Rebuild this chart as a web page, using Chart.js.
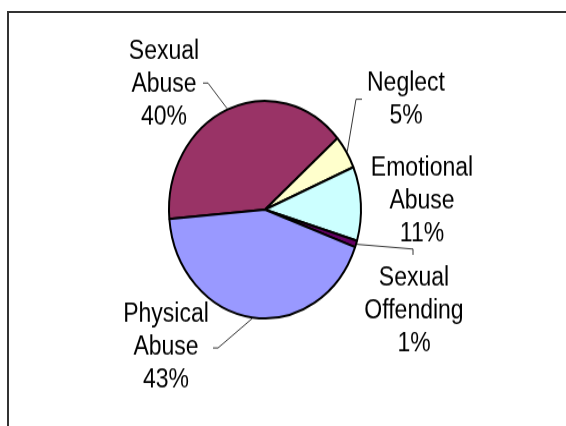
<!DOCTYPE html>
<html lang="en">
<head>
  <meta charset="UTF-8" />
  <title>Case Types</title>
  <style>
    html, body { margin: 0; padding: 0; background: #fff; overflow: hidden; width: 566px; height: 426px; }
    #frame {
      position: absolute; left: 7px; top: 11px;
      width: 1000px; height: 1000px;
      border: 2px solid #333;
    }
    #chart { position: absolute; left: 0; top: 0; }
  </style>
</head>
<body>
  <div id="frame"></div>
  <!-- drawn 566x376 and shown taller, so the pie comes out oval -->
  <canvas id="chart" width="566" height="376" style="width:566px;height:426px"></canvas>

  <script src="https://cdn.jsdelivr.net/npm/chart.js"></script>
  <script>
    const categories = [["Sexual", "Abuse"], ["Neglect"], ["Emotional", "Abuse"], ["Sexual", "Offending"], ["Physical", "Abuse"]];
    const percents = [40, 5, 11, 1, 43];
    const colours = ["#993366", "#FFFFCC", "#CCFFFF", "#660066", "#9999FF"];

    // label block (first baseline) and leader bend for each slice
    const labelSpots = [
      { x: 164, y: 52, elbow: [208, 73.3], end: [203, 73.3] },
      { x: 406, y: 80, elbow: [356, 87.6], end: [362, 87.6] },
      { x: 422, y: 154.5, elbow: null },
      { x: 414, y: 251.5, elbow: [413, 219.8], end: [413, 225] },
      { x: 166, y: 284, elbow: [218, 307.1], end: [213, 307.1] }
    ];
    const LINE_H = 29;

    const outsideLabels = {
      id: 'outsideLabels',
      afterDatasetsDraw(chart) {
        const ctx = chart.ctx;
        const arcs = chart.getDatasetMeta(0).data;
        ctx.save();
        // leader lines from the middle of each slice's rim
        ctx.strokeStyle = '#000';
        ctx.lineWidth = 0.8;
        arcs.forEach((arc, i) => {
          const spot = labelSpots[i];
          if (!spot.elbow) return;
          const p = arc.getProps(['x', 'y', 'startAngle', 'endAngle', 'outerRadius'], true);
          const mid = (p.startAngle + p.endAngle) / 2;
          const r = p.outerRadius + 1;
          ctx.beginPath();
          ctx.moveTo(p.x + Math.cos(mid) * r, p.y + Math.sin(mid) * r);
          ctx.lineTo(spot.elbow[0], spot.elbow[1]);
          ctx.lineTo(spot.end[0], spot.end[1]);
          ctx.stroke();
        });
        // text
        ctx.fillStyle = '#000';
        ctx.font = '23px "Liberation Sans", Arial, sans-serif';
        ctx.textAlign = 'center';
        ctx.textBaseline = 'alphabetic';
        arcs.forEach((arc, i) => {
          const spot = labelSpots[i];
          const lines = categories[i].concat([percents[i] + '%']);
          lines.forEach((t, k) => ctx.fillText(t, spot.x, spot.y + k * LINE_H));
        });
        ctx.restore();
      }
    };

    new Chart(document.getElementById('chart').getContext('2d'), {
      type: 'pie',
      data: {
        labels: categories.map(c => c.join(' ')),
        datasets: [{
          data: percents,
          backgroundColor: colours,
          borderColor: '#000',
          borderWidth: 2
        }]
      },
      options: {
        responsive: false,
        animation: false,
        rotation: -95,
        radius: 96,
        layout: { padding: { left: 168, right: 204, top: 88, bottom: 94 } },
        plugins: {
          legend: { display: false },
          tooltip: { enabled: false }
        }
      },
      plugins: [outsideLabels]
    });
  </script>
</body>
</html>
